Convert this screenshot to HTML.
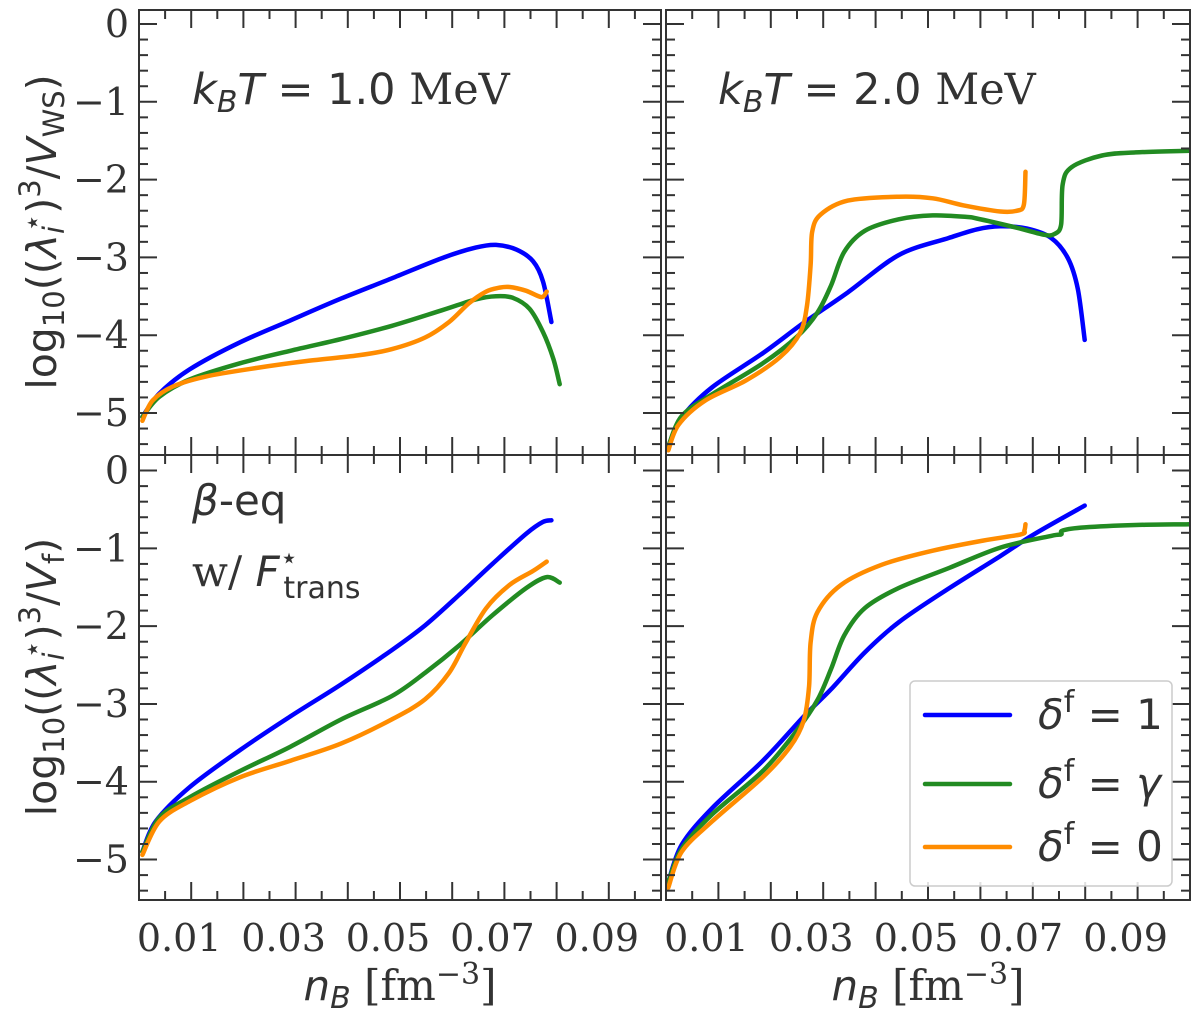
<!DOCTYPE html>
<html><head><meta charset="utf-8"><style>
html,body{margin:0;padding:0;background:#fff}
svg{display:block}
.tk{font-family:"DejaVu Serif","Liberation Serif",serif;font-size:38px;fill:#333}
.sans{font-family:"DejaVu Sans","Liberation Sans",sans-serif;fill:#333}
.serif{font-family:"DejaVu Serif","Liberation Serif",serif;fill:#333}
</style></head><body>
<svg id="chart" width="1200" height="1013" viewBox="0 0 1200 1013" xmlns="http://www.w3.org/2000/svg">
<defs>
<clipPath id="c0"><rect x="139" y="10" width="522" height="445"/></clipPath>
<clipPath id="c1"><rect x="666" y="10" width="524" height="445"/></clipPath>
<clipPath id="c2"><rect x="139" y="455" width="522" height="445"/></clipPath>
<clipPath id="c3"><rect x="666" y="455" width="524" height="445"/></clipPath>
</defs>
<g id="marks"></g>
<g id="axes"></g>
<text class="sans" x="192" y="104" font-size="43"><tspan font-style="italic">k</tspan><tspan font-style="italic" font-size="30" dy="8">B</tspan><tspan font-style="italic" dy="-8">T</tspan> = 1.0 <tspan class="serif">MeV</tspan></text>
<text class="sans" x="718" y="104" font-size="43"><tspan font-style="italic">k</tspan><tspan font-style="italic" font-size="30" dy="8">B</tspan><tspan font-style="italic" dy="-8">T</tspan> = 2.0 <tspan class="serif">MeV</tspan></text>
<text class="sans" x="192" y="515" font-size="42"><tspan font-style="italic">β</tspan>-eq</text>
<text x="192" y="586" font-size="42"><tspan class="serif">w/ </tspan><tspan class="sans" font-style="italic">F</tspan><tspan class="sans" font-size="30" dy="-18">⋆</tspan><tspan class="sans" font-size="30" dx="-15" dy="30">trans</tspan></text>
<text class="sans" font-size="41" transform="translate(56,232) rotate(-90)" text-anchor="middle">log<tspan font-size="29" dy="8">10</tspan><tspan dy="-8">((</tspan><tspan font-style="italic">λ</tspan><tspan font-size="29" font-style="italic" dy="8">i</tspan><tspan font-size="29" dx="-6" dy="-22">⋆</tspan><tspan dy="14">)</tspan><tspan font-size="29" dy="-16">3</tspan><tspan dy="16">/</tspan><tspan font-style="italic">V</tspan><tspan font-size="29" dy="8">WS</tspan><tspan dy="-8">)</tspan></text>
<text class="sans" font-size="41" transform="translate(56,677) rotate(-90)" text-anchor="middle">log<tspan font-size="29" dy="8">10</tspan><tspan dy="-8">((</tspan><tspan font-style="italic">λ</tspan><tspan font-size="29" font-style="italic" dy="8">i</tspan><tspan font-size="29" dx="-6" dy="-22">⋆</tspan><tspan dy="14">)</tspan><tspan font-size="29" dy="-16">3</tspan><tspan dy="16">/</tspan><tspan font-style="italic">V</tspan><tspan font-size="29" dy="8">f</tspan><tspan dy="-8">)</tspan></text>
<text class="sans" font-size="42" x="400" y="1000" text-anchor="middle"><tspan font-style="italic">n</tspan><tspan font-style="italic" font-size="30" dy="8">B</tspan><tspan class="serif" dy="-8"> [fm</tspan><tspan class="serif" font-size="30" dy="-16">−3</tspan><tspan class="serif" dy="16">]</tspan></text>
<text class="sans" font-size="42" x="928" y="1000" text-anchor="middle"><tspan font-style="italic">n</tspan><tspan font-style="italic" font-size="30" dy="8">B</tspan><tspan class="serif" dy="-8"> [fm</tspan><tspan class="serif" font-size="30" dy="-16">−3</tspan><tspan class="serif" dy="16">]</tspan></text>
<g>
<rect x="910" y="681" width="262" height="205" rx="5" fill="#fff" fill-opacity="0.85" stroke="#ccc" stroke-width="1.5"/>
<line x1="925" y1="715" x2="1010" y2="715" stroke="#0000ff" stroke-width="4.5" stroke-linecap="round"/>
<text class="sans" font-size="42" x="1038" y="729"><tspan font-style="italic">δ</tspan><tspan font-size="30" dy="-17">f</tspan><tspan dy="17"> = 1</tspan></text>
<line x1="925" y1="784" x2="1010" y2="784" stroke="#228b22" stroke-width="4.5" stroke-linecap="round"/>
<text class="sans" font-size="42" x="1038" y="798"><tspan font-style="italic">δ</tspan><tspan font-size="30" dy="-17">f</tspan><tspan dy="17"> = </tspan><tspan font-style="italic">γ</tspan></text>
<line x1="925" y1="847" x2="1010" y2="847" stroke="#ff8c00" stroke-width="4.5" stroke-linecap="round"/>
<text class="sans" font-size="42" x="1038" y="861"><tspan font-style="italic">δ</tspan><tspan font-size="30" dy="-17">f</tspan><tspan dy="17"> = 0</tspan></text>
</g>
</svg>
<script>
// x tick labels & y tick values
const xTickLabels = ["0.01","0.03","0.05","0.07","0.09"];
const xTickValues = [0.01,0.03,0.05,0.07,0.09];
const yTickValues = [0,-1,-2,-3,-4,-5];
const seriesNames = ["delta-1","delta-gamma","delta-0"];
const colors = ["#0000ff","#228b22","#ff8c00"];

// Panel: T=1.0 MeV (top-left)
const tl_blue_x = [0.00065,0.0039,0.0097,0.0194,0.029,0.0387,0.0484,0.058,0.0645,0.0684,0.0723,0.0755,0.0774,0.079];
const tl_blue_y = [-5.05,-4.75,-4.44,-4.09,-3.81,-3.53,-3.27,-3.01,-2.874,-2.84,-2.90,-3.05,-3.31,-3.83];
const tl_green_x = [0.00065,0.0039,0.0097,0.0194,0.029,0.0387,0.0484,0.058,0.0645,0.0684,0.0716,0.0748,0.0774,0.0794,0.0806];
const tl_green_y = [-5.05,-4.79,-4.57,-4.36,-4.20,-4.05,-3.88,-3.68,-3.54,-3.50,-3.52,-3.66,-3.96,-4.31,-4.63];
const tl_orange_x = [0.00065,0.0026,0.0065,0.0129,0.0226,0.0323,0.0419,0.0484,0.0548,0.0594,0.0632,0.0665,0.069,0.071,0.0742,0.0771,0.0781];
const tl_orange_y = [-5.10,-4.84,-4.66,-4.53,-4.42,-4.33,-4.26,-4.18,-4.03,-3.83,-3.59,-3.44,-3.39,-3.38,-3.43,-3.51,-3.44];

// Panel: T=2.0 MeV (top-right)
const tr_blue_x = [0.00044,0.003,0.0088,0.0185,0.0263,0.0347,0.0444,0.054,0.0593,0.0638,0.0689,0.0735,0.0767,0.0786,0.0799];
const tr_blue_y = [-5.43,-5.06,-4.67,-4.23,-3.84,-3.45,-2.97,-2.75,-2.64,-2.60,-2.63,-2.75,-3.01,-3.41,-4.06];
const tr_green_x = [0.00044,0.003,0.0088,0.0185,0.025,0.0289,0.0315,0.034,0.0379,0.0444,0.0509,0.0573,0.0593,0.067,0.0722,0.0741,0.0754,0.0757,0.0774,0.0832,0.0896,0.1];
const tr_green_y = [-5.43,-5.04,-4.76,-4.36,-4.02,-3.71,-3.36,-2.93,-2.66,-2.51,-2.46,-2.48,-2.50,-2.62,-2.71,-2.70,-2.58,-2.06,-1.84,-1.69,-1.65,-1.63];
const tr_orange_x = [0.00044,0.0024,0.0075,0.0153,0.0218,0.0256,0.0269,0.0276,0.0279,0.0295,0.0347,0.0444,0.0509,0.0567,0.0638,0.067,0.0683,0.0686];
const tr_orange_y = [-5.48,-5.15,-4.84,-4.58,-4.28,-3.97,-3.62,-3.10,-2.67,-2.45,-2.27,-2.22,-2.24,-2.33,-2.41,-2.40,-2.32,-1.90];

// Panel: beta-eq, T=1.0 (bottom-left)
const bl_blue_x = [0.00065,0.0032,0.0097,0.0194,0.029,0.0387,0.0484,0.0548,0.0613,0.0677,0.0742,0.0774,0.079];
const bl_blue_y = [-4.90,-4.51,-4.07,-3.59,-3.16,-2.75,-2.31,-1.99,-1.60,-1.20,-0.81,-0.66,-0.64];
const bl_green_x = [0.00065,0.0039,0.0097,0.0194,0.029,0.0387,0.0484,0.0548,0.0613,0.0677,0.0742,0.0781,0.0806];
const bl_green_y = [-4.90,-4.46,-4.20,-3.86,-3.55,-3.20,-2.90,-2.60,-2.25,-1.86,-1.51,-1.37,-1.44];
const bl_orange_x = [0.00065,0.0039,0.0097,0.0194,0.029,0.0387,0.0484,0.0548,0.0594,0.0626,0.0665,0.071,0.0755,0.0781];
const bl_orange_y = [-4.94,-4.51,-4.25,-3.94,-3.73,-3.51,-3.20,-2.94,-2.60,-2.21,-1.77,-1.47,-1.29,-1.17];

// Panel: beta-eq, T=2.0 (bottom-right)
const br_blue_x = [0.00043,0.003,0.0088,0.0185,0.0263,0.0315,0.0379,0.0444,0.0541,0.0638,0.0702,0.0799];
const br_blue_y = [-5.29,-4.81,-4.34,-3.73,-3.16,-2.81,-2.34,-1.95,-1.51,-1.10,-0.82,-0.45];
const br_green_x = [0.00043,0.003,0.0088,0.0185,0.025,0.0289,0.0315,0.034,0.0379,0.0444,0.0541,0.0638,0.0735,0.0754,0.0757,0.0799,0.0896,0.1];
const br_green_y = [-5.29,-4.86,-4.42,-3.86,-3.34,-2.95,-2.55,-2.12,-1.77,-1.51,-1.25,-0.99,-0.84,-0.82,-0.77,-0.73,-0.70,-0.69];
const br_orange_x = [0.00043,0.003,0.0088,0.0185,0.0237,0.0263,0.0273,0.0276,0.0289,0.0334,0.0412,0.0509,0.0605,0.0677,0.0684,0.0686];
const br_orange_y = [-5.36,-4.90,-4.51,-3.94,-3.55,-3.21,-2.77,-2.21,-1.82,-1.47,-1.21,-1.03,-0.90,-0.82,-0.77,-0.69];

const NS = "http://www.w3.org/2000/svg";
const panels = [
  {id:"top-left", x0:139, x1:661, y0:10, y1:455, ymax:0.18, ymin:-5.54, xlabels:false, ylabels:true, clip:"c0",
   series:[[tl_blue_x,tl_blue_y],[tl_green_x,tl_green_y],[tl_orange_x,tl_orange_y]]},
  {id:"top-right", x0:666, x1:1190, y0:10, y1:455, ymax:0.18, ymin:-5.54, xlabels:false, ylabels:false, clip:"c1",
   series:[[tr_blue_x,tr_blue_y],[tr_green_x,tr_green_y],[tr_orange_x,tr_orange_y]]},
  {id:"bottom-left", x0:139, x1:661, y0:455, y1:900, ymax:0.2, ymin:-5.52, xlabels:true, ylabels:true, clip:"c2",
   series:[[bl_blue_x,bl_blue_y],[bl_green_x,bl_green_y],[bl_orange_x,bl_orange_y]]},
  {id:"bottom-right", x0:666, x1:1190, y0:455, y1:900, ymax:0.2, ymin:-5.52, xlabels:true, ylabels:false, clip:"c3",
   series:[[br_blue_x,br_blue_y],[br_green_x,br_green_y],[br_orange_x,br_orange_y]]}
];
const XMIN = 0, XMAX = 0.1;
function sx(p, v){ return p.x0 + (v - XMIN) / (XMAX - XMIN) * (p.x1 - p.x0); }
function sy(p, v){ return p.y0 + (p.ymax - v) / (p.ymax - p.ymin) * (p.y1 - p.y0); }
function smoothPath(pts){
  let d = "M" + pts[0][0].toFixed(1) + "," + pts[0][1].toFixed(1);
  const t = 0.16;
  for (let i = 0; i < pts.length - 1; i++) {
    const p0 = pts[Math.max(0, i - 1)], p1 = pts[i], p2 = pts[i + 1], p3 = pts[Math.min(pts.length - 1, i + 2)];
    const c1x = p1[0] + (p2[0] - p0[0]) * t, c1y = p1[1] + (p2[1] - p0[1]) * t;
    const c2x = p2[0] - (p3[0] - p1[0]) * t, c2y = p2[1] - (p3[1] - p1[1]) * t;
    d += "C" + c1x.toFixed(1) + "," + c1y.toFixed(1) + " " + c2x.toFixed(1) + "," + c2y.toFixed(1) + " " + p2[0].toFixed(1) + "," + p2[1].toFixed(1);
  }
  return d;
}

const marks = document.getElementById("marks");
const axes = document.getElementById("axes");
function ln(g, x1, y1, x2, y2, w){
  const l = document.createElementNS(NS, "line");
  l.setAttribute("x1", x1); l.setAttribute("y1", y1); l.setAttribute("x2", x2); l.setAttribute("y2", y2);
  l.setAttribute("stroke", "#333"); l.setAttribute("stroke-width", w);
  
  
  g.appendChild(l);
}
panels.forEach(p => {
  const g = document.createElementNS(NS, "g");
  g.setAttribute("clip-path", "url(#" + p.clip + ")");
  
  
  p.series.forEach((s, i) => {
    const xs = s[0], ys = s[1];
    const pts = xs.map((x, k) => [sx(p, x), sy(p, ys[k])]);
    const path = document.createElementNS(NS, "path");
    path.setAttribute("d", smoothPath(pts));
    path.setAttribute("fill", "none");
    path.setAttribute("stroke", colors[i]);
    path.setAttribute("stroke-width", "4.5");
    path.setAttribute("stroke-linecap", "round");
    path.setAttribute("stroke-linejoin", "round");
    
    
    g.appendChild(path);
  });
  marks.appendChild(g);

  const a = document.createElementNS(NS, "g");
  
  
  const r = document.createElementNS(NS, "rect");
  r.setAttribute("x", p.x0); r.setAttribute("y", p.y0);
  r.setAttribute("width", p.x1 - p.x0); r.setAttribute("height", p.y1 - p.y0);
  r.setAttribute("fill", "none"); r.setAttribute("stroke", "#333"); r.setAttribute("stroke-width", "2");
  
  
  a.appendChild(r);
  for (let k = 1; k < 20; k++) {
    const v = k * 0.005, x = sx(p, v);
    const major = (k % 2 === 0);
    const len = major ? 18 : 9;
    ln(a, x, p.y1, x, p.y1 - len, 2);
    ln(a, x, p.y0, x, p.y0 + len, 2);
  }
  for (let k = -28; k <= 1; k++) {
    const v = k * 0.2, y = sy(p, v);
    if (y < p.y0 + 1 || y > p.y1 - 1) continue;
    const major = (k % 5 === 0);
    const len = major ? 18 : 9;
    ln(a, p.x0, y, p.x0 + len, y, 2);
    ln(a, p.x1, y, p.x1 - len, y, 2);
  }
  if (p.ylabels) {
    yTickValues.forEach(v => {
      const t = document.createElementNS(NS, "text");
      t.setAttribute("class", "tk");
      t.setAttribute("x", p.x0 - 10);
      t.setAttribute("y", sy(p, v) + 13);
      t.setAttribute("text-anchor", "end");
      t.textContent = v === 0 ? "0" : "\u2212" + Math.abs(v);
      
      
      a.appendChild(t);
    });
  }
  if (p.xlabels) {
    xTickValues.forEach((v, i) => {
      const t = document.createElementNS(NS, "text");
      t.setAttribute("class", "tk");
      t.setAttribute("x", sx(p, v) - 12);
      t.setAttribute("y", 951);
      t.setAttribute("text-anchor", "middle");
      t.textContent = xTickLabels[i];
      
      
      a.appendChild(t);
    });
  }
  axes.appendChild(a);
});
</script>
</body></html>
